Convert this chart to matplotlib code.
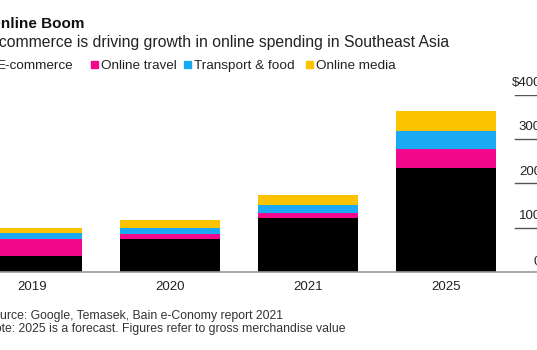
import numpy as np
import matplotlib.pyplot as plt
from matplotlib.patches import Rectangle

plt.rcParams['font.family'] = ['Liberation Sans', 'DejaVu Sans']

# --- Datos (miles de millones USD, GMV) ---
years = ['2019', '2020', '2021', '2025']
ecommerce = [36, 74, 121, 234]
online_travel = [37, 11, 13, 43]
transport_food = [14, 15, 16, 42]
online_media = [13, 17, 24, 44]

series = ['E-commerce', 'Online travel', 'Transport & food', 'Online media']
colores = ['#000000', '#f2088c', '#1aa9f2', '#fbc300']
yticks = [100, 200, 300, 400]
ytick_labels = ['100', '200', '300', '$400']

W, H = 537, 350
fig = plt.figure(figsize=(W / 100, H / 100), dpi=100)


def fx(px):
    return px / W


def fy(py):
    return 1 - py / H


# Ejes: cero en y=271.7 px, 400 en y=95 px
ax = fig.add_axes([0, fy(271.7), 1, (271.7 - 95) / H])
x = np.arange(len(years))
datos = [ecommerce, online_travel, transport_food, online_media]
base = np.zeros(len(years))
for vals, col in zip(datos, colores):
    ax.bar(x, vals, bottom=base, width=0.72, color=col, zorder=2)
    base = base + np.array(vals)

ax.set_xlim(-32 / 138, (W - 32) / 138)
ax.set_ylim(0, 400)
for s in ax.spines.values():
    s.set_visible(False)
ax.axhline(0, color='#9a9a9a', lw=1.2, zorder=3, clip_on=False)
ax.set_yticks([])
ax.set_xticks(x)
ax.set_xticklabels(years, fontsize=9.5, color='#222222')
ax.tick_params(axis='x', length=0, pad=7)

# Etiquetas del eje y a la derecha, estilo Bloomberg
x_lin = (515 - 32) / 138
for v, lab in zip(yticks, ytick_labels):
    ax.plot([x_lin, 4.0], [v, v], color='#555555', lw=1, clip_on=True)
    ax.text((541 - 32) / 138, v + 13, lab, ha='right', va='bottom',
            fontsize=9.5, color='#222222', clip_on=False)
ax.text((541 - 32) / 138, 8, '0', ha='right', va='bottom',
        fontsize=9.5, color='#222222')

# Títulos
fig.text(fx(-11), fy(28), 'Online Boom', fontsize=11, fontweight='bold',
         color='#111111', va='baseline')
fig.text(fx(-17), fy(47), 'E-commerce is driving growth in online spending in Southeast Asia',
         fontsize=11.3, color='#222222', va='baseline')

# Leyenda
leg_x = [-13, 91, 184, 306]
for lx, nombre, col in zip(leg_x, series, colores):
    fig.patches.append(Rectangle((fx(lx), fy(68)), fx(7), 7 / H, color=col,
                                 transform=fig.transFigure, figure=fig))
    fig.text(fx(lx + 10), fy(69), nombre, fontsize=9.7, color='#222222',
             va='baseline')

# Fuente y nota
fig.text(fx(-15), fy(319), 'Source: Google, Temasek, Bain e-Conomy report 2021',
         fontsize=8.8, color='#333333', va='baseline')
fig.text(fx(-14), fy(332), 'Note: 2025 is a forecast. Figures refer to gross merchandise value',
         fontsize=8.8, color='#333333', va='baseline')

fig.savefig('out.png', dpi=100)
